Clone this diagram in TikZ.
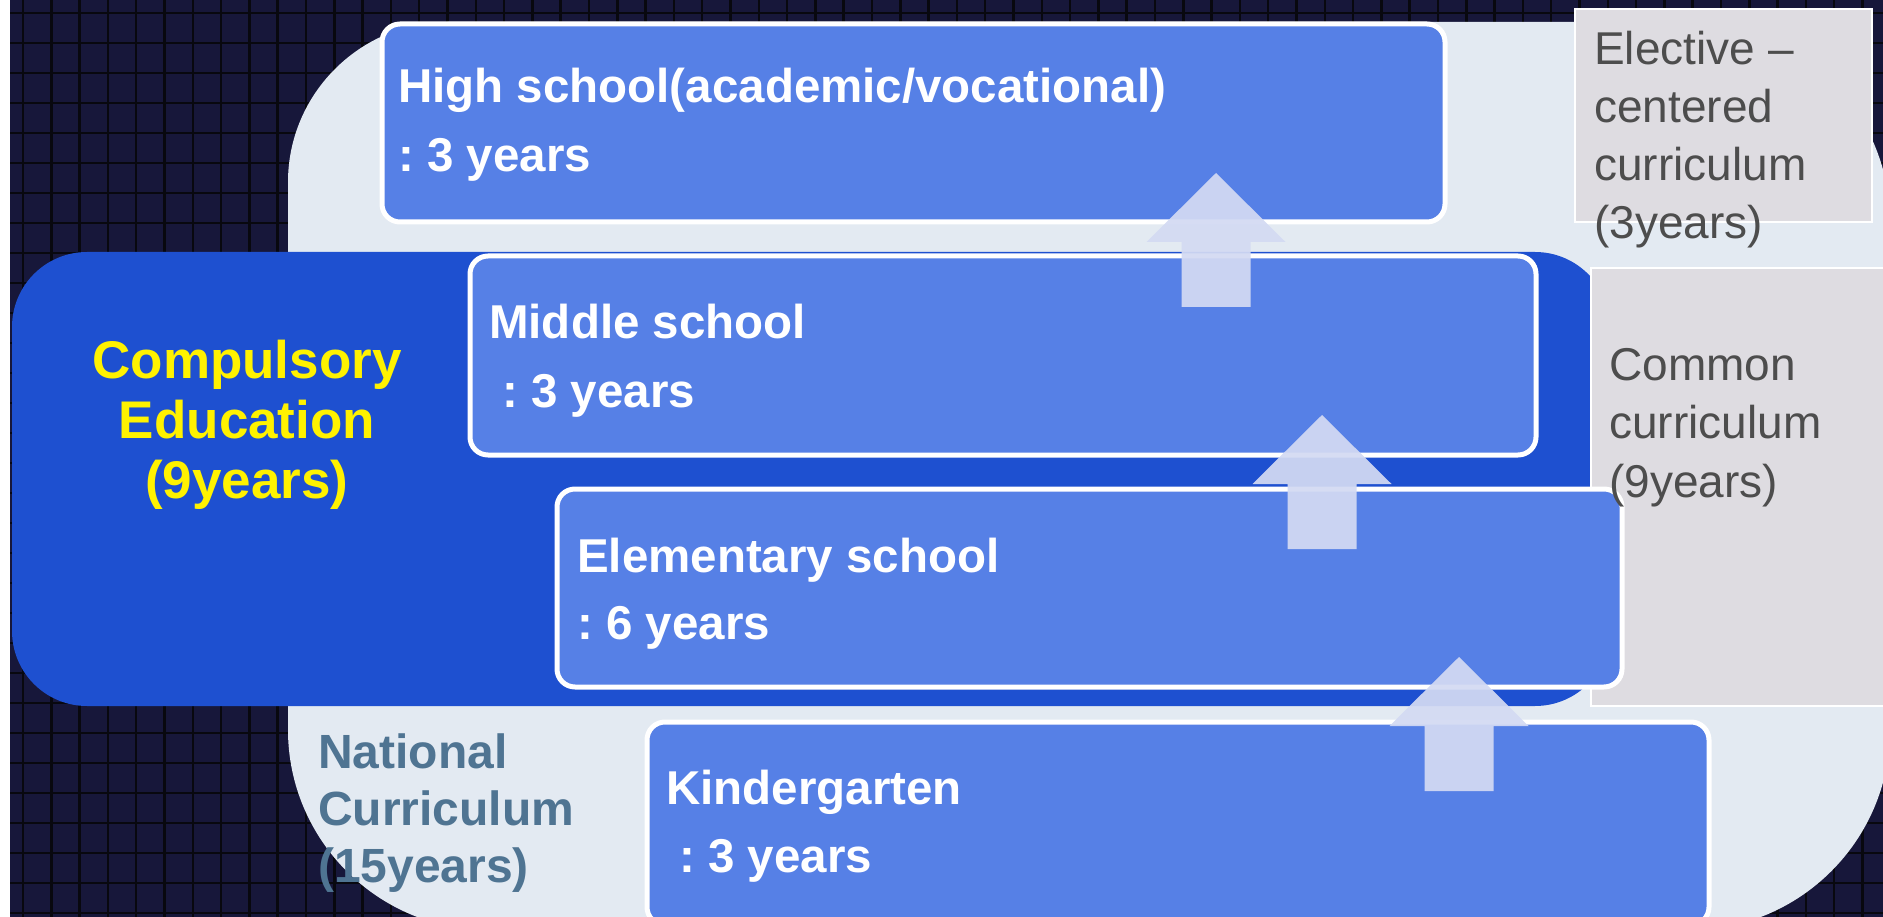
\documentclass[tikz,border=0pt]{standalone}
\usepackage{fontspec}
\setmainfont{Liberation Sans}
\frenchspacing
\definecolor{navybg}{HTML}{17173A}
\definecolor{gridline}{HTML}{08080F}
\definecolor{panel}{HTML}{E3EAF2}
\definecolor{compblue}{HTML}{1E50D0}
\definecolor{boxblue}{HTML}{5680E6}
\definecolor{graybox}{HTML}{DEDCE1}
\definecolor{graytext}{HTML}{4D4D4D}
\definecolor{natblue}{HTML}{4F7492}
\definecolor{arrowfill}{HTML}{D3DAF3}
\tikzset{
 schoolbox/.style={rectangle, rounded corners=18pt, draw=white, line width=5pt, fill=boxblue, inner sep=0pt},
 compbox/.style={rectangle, rounded corners=75pt, fill=compblue, inner sep=0pt},
 curbox/.style={rectangle, draw=white, line width=1.5pt, fill=graybox, inner sep=0pt},
 boxtext/.style={anchor=base west, inner sep=0pt, text=white, font=\fontsize{47.5}{57}\selectfont\bfseries},
 comptext/.style={anchor=base, inner sep=0pt, text=yellow, font=\fontsize{53}{60}\selectfont\bfseries},
 nattext/.style={anchor=base west, inner sep=0pt, text=natblue, font=\fontsize{48}{57}\selectfont\bfseries},
 curtext/.style={anchor=base west, inner sep=0pt, text=graytext, font=\fontsize{46}{57}\selectfont},
 gridstroke/.style={draw=gridline, line width=2.5pt},
 uparrow/.pic={\fill[arrowfill, fill opacity=0.93] (-34.5,0) -- (-34.5,-65) -- (-69.5,-65) -- (0,-134) -- (69.5,-65) -- (34.5,-65) -- (34.5,0) -- cycle;}
}
\begin{document}
\begin{tikzpicture}[x=1pt,y=-1pt]
\useasboundingbox (0,0) rectangle (1883,917);
\begin{scope}
\clip (0,0) rectangle (1883,917);
% background
\fill[white] (0,0) rectangle (10,917);
\fill[navybg] (10,0) rectangle (1883,917);
\foreach \i in {0,...,66} {\draw[gridstroke] ({23+28.3*\i},0) -- ({23+28.3*\i},917);}
\foreach \j in {0,...,30} {\draw[gridstroke] (10,{13+30*\j}) -- (1883,{13+30*\j});}
% national curriculum panel
\fill[panel] (288,182) .. controls (288,94) and (360,22) .. (448,22) -- (1690,22)
  .. controls (1800,22) and (1890,112) .. (1890,222) -- (1890,730)
  .. controls (1890,840) and (1800,930) .. (1690,930) -- (488,930)
  .. controls (378,930) and (288,840) .. (288,730) -- cycle;
% compulsory education block
\node[compbox, minimum width=1598pt, minimum height=454pt] (comp) at (811,479) {};
% curriculum boxes
\node[curbox, minimum width=297pt, minimum height=213pt] (elective) at (1723.5,115.5) {};
\node[curbox, minimum width=304pt, minimum height=438pt] (common) at (1743,487) {};
% school boxes
\node[schoolbox, minimum width=1063pt, minimum height=198pt] (hs) at (913.5,123) {};
\node[schoolbox, minimum width=1066pt, minimum height=199pt] (ms) at (1003,355.5) {};
\node[schoolbox, minimum width=1065pt, minimum height=198pt] (es) at (1089.5,588) {};
\node[schoolbox, minimum width=1062pt, minimum height=203pt] (kg) at (1178,823.5) {};
% arrows
\pic (arrA) at (1216,307) {uparrow};
\pic (arrB) at (1322,549) {uparrow};
\pic (arrC) at (1459,791) {uparrow};
% school texts
\node[boxtext] (hs1) at (398,103) {High school(academic/vocational)};
\node[boxtext] (hs2) at (398,172) {: 3 years};
\node[boxtext] (ms1) at (489,339) {Middle school};
\node[boxtext] (ms2) at (489,407) {\ : 3 years};
\node[boxtext] (es1) at (577,572) {Elementary school};
\node[boxtext] (es2) at (577,639) {: 6 years};
\node[boxtext] (kg1) at (666,804) {Kindergarten};
\node[boxtext] (kg2) at (666,872) {\ : 3 years};
% compulsory text
\node[comptext] (c1) at (247,378) {Compulsory};
\node[comptext] (c2) at (247,438) {Education};
\node[comptext] (c3) at (247,498) {(9years)};
% national curriculum text
\node[nattext] (n1) at (318,768) {National};
\node[nattext] (n2) at (318,825) {Curriculum};
\node[nattext] (n3) at (318,882) {(15years)};
% elective text
\node[curtext] (e1) at (1594,65) {Elective –};
\node[curtext] (e2) at (1594,123) {centered};
\node[curtext] (e3) at (1594,181) {curriculum};
\node[curtext] (e4) at (1594,239) {(3years)};
% common text
\node[curtext] (m1) at (1609,381) {Common};
\node[curtext] (m2) at (1609,438) {curriculum};
\node[curtext] (m3) at (1609,497) {(9years)};
\end{scope}
\end{tikzpicture}
\end{document}
